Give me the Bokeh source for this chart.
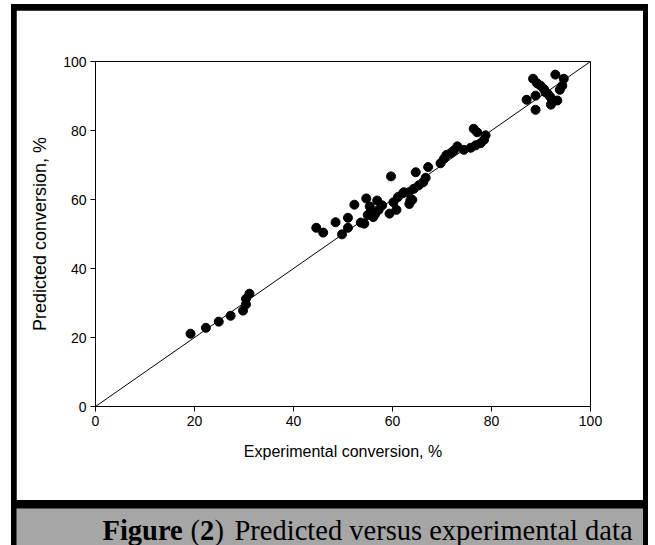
from bokeh.plotting import figure
from bokeh.models import Slope, Label, FixedTicker
from bokeh.layouts import column
from bokeh.embed import file_html
from bokeh.resources import INLINE

# ---- data ----
exp_x = [19.2, 22.3, 24.9, 27.3, 29.8, 30.4, 30.4, 31.1,
         44.6, 46.0, 48.5, 49.8, 51.0, 51.0, 52.3, 53.6, 54.3, 54.7, 55.0, 55.4,
         55.6, 56.1, 56.5, 56.9, 57.2, 57.9, 59.4, 59.7, 60.2, 60.8, 61.1, 62.1,
         62.3, 63.4, 63.6, 64.0, 63.3, 64.3, 64.7, 65.3, 66.2, 66.7, 67.2, 69.7,
         70.4, 70.9, 71.7, 72.4, 73.1, 74.4, 75.8, 76.8, 77.8, 78.5, 78.8, 77.1, 76.4,
         87.1, 88.4, 88.9, 88.9, 89.2, 89.9, 90.6, 90.9, 91.4, 91.9, 92.3, 92.0,
         93.3, 93.8, 94.3, 94.6, 92.9]
pred_y = [21.1, 22.8, 24.6, 26.3, 27.8, 29.6, 31.2, 32.7,
          51.8, 50.4, 53.4, 49.9, 51.8, 54.7, 58.5, 53.3, 53.0, 60.3, 55.5, 58.0,
          56.3, 54.9, 55.8, 59.7, 57.0, 58.3, 55.9, 66.7, 59.2, 57.0, 60.7, 61.8,
          62.1, 58.7, 59.7, 59.9, 62.1, 63.1, 67.9, 64.1, 65.0, 66.3, 69.4, 70.5,
          71.8, 72.9, 73.4, 74.2, 75.4, 74.4, 75.0, 75.7, 76.3, 77.3, 78.6, 79.5, 80.5,
          88.9, 95.0, 90.1, 86.0, 93.7, 93.0, 92.0, 91.1, 90.6, 89.7, 88.7, 87.5,
          88.7, 91.8, 93.0, 95.0, 96.2]
axis_ticks = [0, 20, 40, 60, 80, 100]
x_title = "Experimental conversion, %"
y_title = "Predicted conversion, %"
caption_parts = ["Figure", "(", "2", ")", "Predicted versus experimental data"]
caption_bold = [True, False, True, False, False]

# ---- main chart (white panel inside the black frame) ----
p = figure(width=627, height=490, x_range=(0, 100), y_range=(0, 100),
           output_backend="svg", toolbar_location=None, title=None,
           min_border_left=79, min_border_right=53,
           min_border_top=51, min_border_bottom=94)
p.frame_align = False
p.margin = (6, 5, 0, 5)
p.background_fill_color = "white"
p.border_fill_color = "white"
p.outline_line_color = "black"
p.outline_line_width = 1
p.xgrid.visible = False
p.ygrid.visible = False

for ax in (p.xaxis, p.yaxis):
    ax.ticker = FixedTicker(ticks=axis_ticks)
    ax.major_tick_out = 5
    ax.major_tick_in = 0
    ax.minor_tick_line_color = None
    ax.axis_line_color = "black"
    ax.major_tick_line_color = "black"
    ax.major_label_text_font = "Liberation Sans"
    ax.major_label_text_font_size = "14px"
    ax.major_label_text_color = "black"
    ax.axis_label_text_font = "Liberation Sans"
    ax.axis_label_text_font_style = "normal"
    ax.axis_label_text_color = "black"
    ax.major_label_standoff = 4

p.xaxis.axis_label = x_title
p.yaxis.axis_label = y_title
p.xaxis.axis_label_text_font_size = "16px"
p.yaxis.axis_label_text_font_size = "18px"
p.xaxis.axis_label_standoff = 14
p.yaxis.axis_label_standoff = 10

p.add_layout(Slope(gradient=1, y_intercept=0, line_color="black", line_width=1))
p.scatter(exp_x, pred_y, size=9, color="black")

# ---- caption band ----
cap = figure(width=627, height=37, x_range=(0, 627), y_range=(0, 37),
             output_backend="svg", toolbar_location=None, title=None,
             min_border=0, min_border_left=0, min_border_right=0,
             min_border_top=0, min_border_bottom=0,
             sizing_mode="fixed", height_policy="fixed", width_policy="fixed")
cap.frame_align = False
cap.margin = (8, 5, 0, 5)
cap.xaxis.visible = False
cap.yaxis.visible = False
cap.xgrid.visible = False
cap.ygrid.visible = False
cap.outline_line_color = None
cap.background_fill_color = "#a6a6a6"
cap.border_fill_color = "#a6a6a6"

cap_x = [86, 174, 183.5, 198, 218]
for t, xx, b in zip(caption_parts, cap_x, caption_bold):
    cap.add_layout(Label(x=xx, y=15.5, text=t,
                         text_font="Liberation Serif", text_font_size="28.5px",
                         text_font_style="bold" if b else "normal",
                         text_color="black", text_baseline="middle"))

layout = column(p, cap, spacing=0,
                styles={"background-color": "black"})
layout.margin = (4, 0, 0, 11)

open("out.html", "w").write(file_html(layout, INLINE))
